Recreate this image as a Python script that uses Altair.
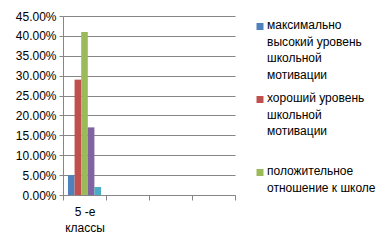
import altair as alt
import pandas as pd

categories = ["5 -е\nклассы", " ", "  ", "   "]
series = [
    "максимально высокий уровень школьной мотивации",
    "хороший уровень школьной мотивации",
    "положительное отношение к школе",
    "ряд 4",
    "ряд 5",
]
legend_labels = [
    "максимально\nвысокий уровень\nшкольной\nмотивации",
    "хороший уровень\nшкольной\nмотивации",
    "положительное\nотношение к школе",
]
values = [0.05, 0.29, 0.41, 0.17, 0.02]
colors = ["#4F81BD", "#C0504D", "#9BBB59", "#8064A2", "#4BACC6"]
y_ticks = [0, 0.05, 0.10, 0.15, 0.20, 0.25, 0.30, 0.35, 0.40, 0.45]

df = pd.DataFrame({"cat": [categories[0]] * len(series), "series": series, "value": values})
leg = pd.DataFrame({"series": series[:3], "label": legend_labels})

FONT = "Liberation Sans"
color_scale = alt.Scale(domain=series, range=colors)

bars = (
    alt.Chart(df)
    .mark_bar()
    .encode(
        x=alt.X(
            "cat:N",
            scale=alt.Scale(domain=categories, paddingInner=0, paddingOuter=0),
            axis=alt.Axis(
                title=None,
                labelAngle=0,
                labelExpr="split(datum.label, '\\n')",
                tickBand="extent",
                tickSize=5,
                labelPadding=6,
                domainColor="#868686",
                tickColor="#868686",
                grid=False,
            ),
            sort=categories,
        ),
        xOffset=alt.XOffset(
            "series:N",
            scale=alt.Scale(domain=series, paddingInner=0, paddingOuter=0.75),
            sort=series,
        ),
        y=alt.Y(
            "value:Q",
            scale=alt.Scale(domain=[0, 0.45], nice=False),
            axis=alt.Axis(
                title=None,
                values=y_ticks,
                format=".2%",
                tickSize=4,
                labelPadding=3,
                domainColor="#868686",
                tickColor="#868686",
                gridColor="#868686",
                grid=True,
            ),
        ),
        color=alt.Color("series:N", scale=color_scale, legend=None),
    )
)

leg_y = alt.Y(
    "series:N",
    sort=series[:3],
    scale=alt.Scale(type="point", domain=series[:3], padding=0.226, align=0.318),
    axis=None,
)

leg_squares = (
    alt.Chart(leg)
    .mark_square(size=49, opacity=1)
    .encode(
        x=alt.value(197),
        y=leg_y,
        color=alt.Color("series:N", scale=color_scale, legend=None),
    )
)

leg_text = (
    alt.Chart(leg)
    .mark_text(
        align="left", baseline="top", dy=-6, lineBreak="\n", lineHeight=16.5,
        font=FONT, fontSize=12, color="#000000",
    )
    .encode(x=alt.value(204), y=leg_y, text="label:N")
)

chart = (
    alt.layer(bars, leg_squares, leg_text)
    .resolve_scale(y="independent")
    .properties(width=172, height=179, padding={"left": 63, "top": 16, "right": 157, "bottom": 50}, autosize="none")
    .configure(style={"guide-label": {"lineHeight": 16}})
    .configure_view(stroke=None)
    .configure_axis(labelFont=FONT, labelFontSize=12, labelColor="#000000")
)

chart.save("out.html", embed_options={"renderer": "svg", "actions": False})
